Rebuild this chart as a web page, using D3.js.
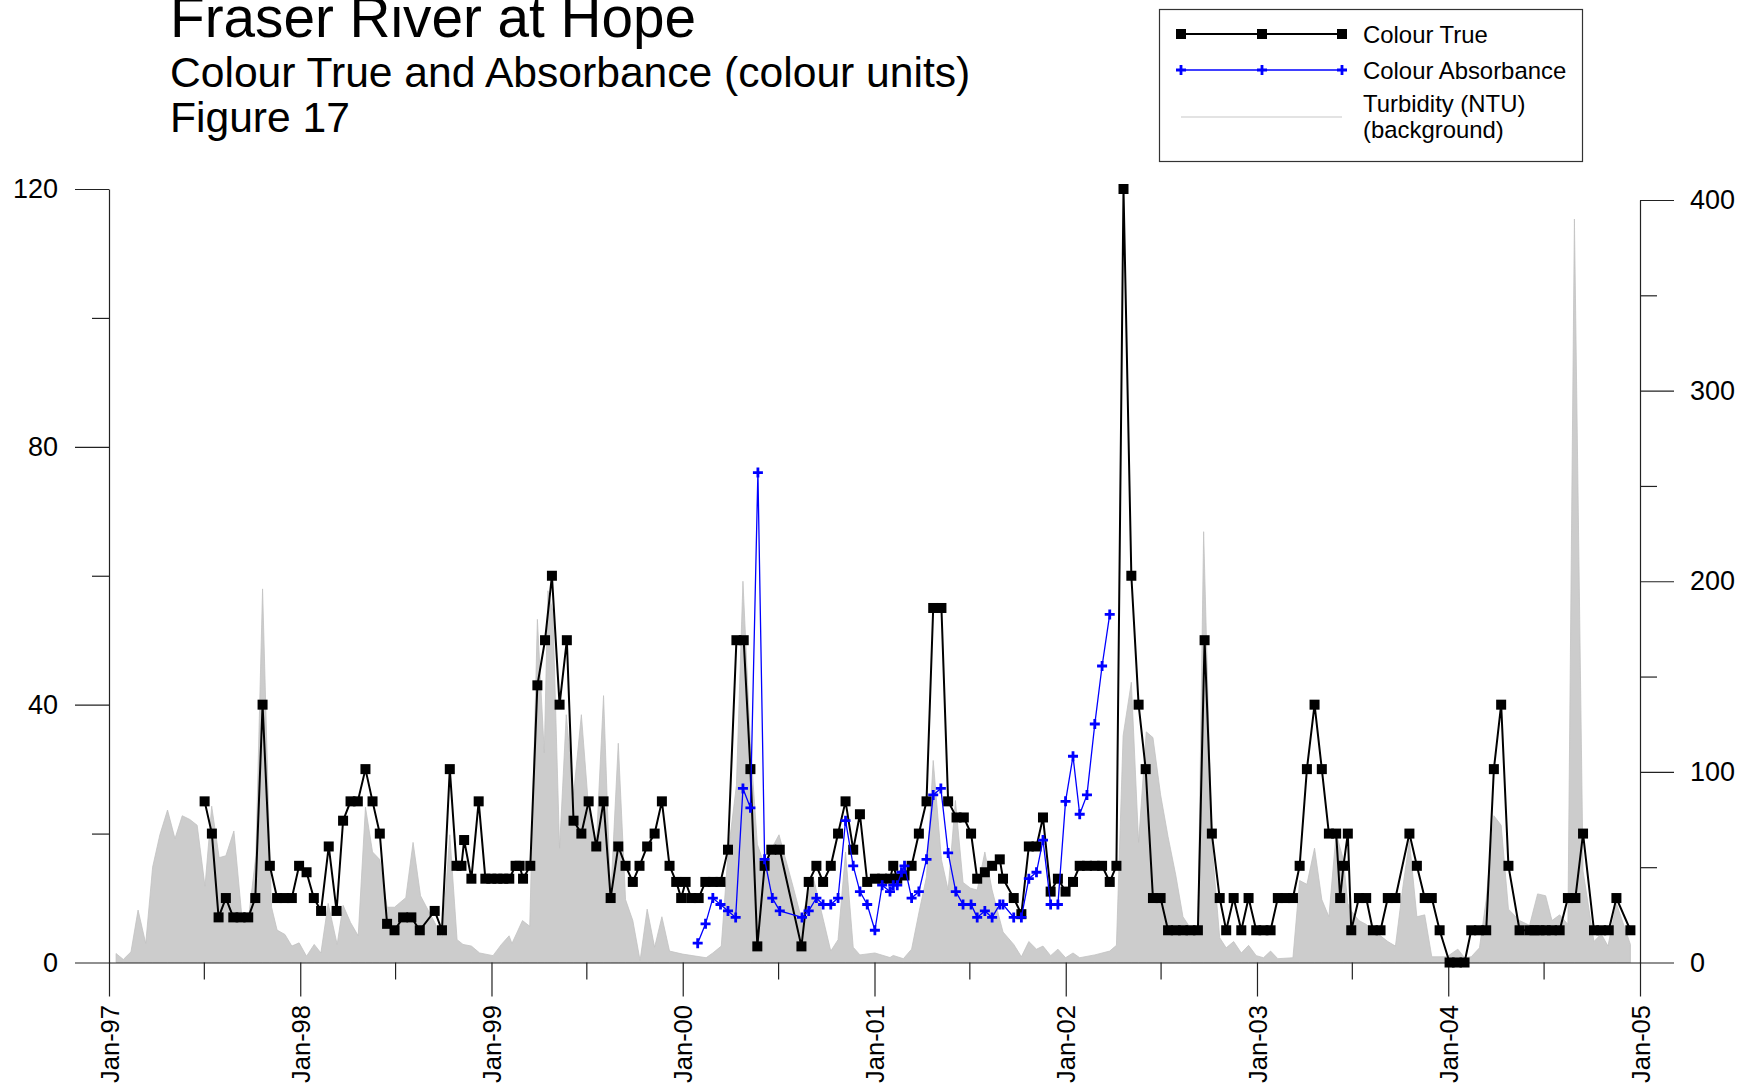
<!DOCTYPE html>
<html><head><meta charset="utf-8">
<script src="https://cdn.jsdelivr.net/npm/d3@7"></script>
<style>
body{margin:0;background:#fff}
svg{display:block}
text{font-family:"Liberation Sans",Arial,Helvetica,sans-serif;fill:#000}
</style>
</head><body>
<svg id="c" width="1743" height="1087"></svg>
<script>
// ---------- DATA (decimal years) ----------
const colourTrueYears = [
1997.500,1997.538,1997.573,1997.611,1997.650,1997.688,1997.728,1997.765,1997.803,1997.841,1997.879,1997.918,1997.956,1997.994,
1998.033,1998.071,1998.109,1998.149,1998.190,1998.224,1998.263,1998.301,1998.341,1998.378,1998.416,1998.454,1998.493,1998.538,
1998.581,1998.625,1998.703,1998.741,1998.782,1998.817,1998.843,1998.857,1998.895,1998.933,1998.968,1998.999,
1999.031,1999.062,1999.093,1999.126,1999.147,1999.165,1999.203,1999.240,1999.280,1999.316,1999.356,1999.394,1999.429,1999.470,
1999.508,1999.548,1999.586,1999.623,1999.663,1999.701,1999.739,1999.774,1999.814,1999.853,1999.891,1999.931,1999.966,1999.992,
2000.015,2000.044,2000.083,2000.118,2000.157,2000.197,2000.236,2000.280,2000.318,2000.353,2000.389,2000.427,2000.462,2000.506,
2000.619,2000.657,2000.697,2000.732,2000.772,2000.810,2000.849,2000.889,2000.924,2000.962,
2001.002,2001.040,2001.081,2001.098,2001.119,2001.157,2001.194,2001.232,2001.272,2001.307,2001.350,2001.385,2001.429,2001.467,
2001.505,2001.537,2001.577,2001.615,2001.655,2001.672,2001.728,2001.768,2001.807,2001.847,2001.881,2001.921,2001.959,
2001.999,2002.038,2002.073,2002.111,2002.152,2002.190,2002.230,2002.265,2002.302,2002.343,2002.381,2002.418,2002.456,2002.496,
2002.535,2002.575,2002.613,2002.652,2002.691,2002.726,2002.764,2002.805,2002.839,2002.878,2002.918,2002.956,
2002.996,2003.034,2003.071,2003.109,2003.148,2003.188,2003.223,2003.261,2003.301,2003.339,2003.376,2003.414,2003.435,2003.452,
2003.475,2003.493,2003.533,2003.571,2003.606,2003.646,2003.684,2003.724,2003.797,2003.836,2003.877,2003.914,2003.955,
2004.007,2004.045,2004.085,2004.120,2004.160,2004.198,2004.238,2004.276,2004.314,2004.372,2004.424,2004.450,2004.476,2004.508,
2004.541,2004.581,2004.624,2004.663,2004.703,2004.760,2004.798,2004.837,2004.877,2004.950];
const colourTrueValues = [
25,20,7,10,7,7,7,10,40,15,10,10,10,15,
14,10,8,18,8,22,25,25,30,25,20,6,5,7,
7,5,8,5,30,15,15,19,13,25,13,13,
13,13,13,15,15,13,15,43,50,60,40,50,22,20,
25,18,25,10,18,15,12.5,15,18,20,25,15,12.5,10,
12.5,10,10,12.5,12.5,12.5,17.5,50,50,30,2.5,15,17.5,17.5,
2.5,12.5,15,12.5,15,20,25,17.5,23,12.5,
13,13,13,15,13,13.5,15,20,25,55,55,25,22.5,22.5,
20,13,14,15,16,13,10,7.5,18,18,22.5,11,13,
11,12.5,15,15,15,15,12.5,15,120,60,40,30,10,10,
5,5,5,5,5,50,20,10,5,10,5,10,
5,5,5,10,10,10,15,30,40,30,20,20,10,15,
20,5,10,10,5,5,10,10,20,15,10,10,5,
0,0,0,5,5,5,30,40,15,5,5,5,5,5,
5,5,10,10,20,5,5,5,10,5];

const absorbanceYears = [
2000.078,2000.119,2000.157,2000.197,2000.236,2000.276,2000.314,2000.353,2000.392,2000.427,2000.467,2000.506,
2000.622,2000.657,2000.697,2000.732,2000.772,2000.810,2000.849,2000.889,2000.924,2000.962,
2001.002,2001.040,2001.081,2001.098,2001.119,2001.141,2001.157,2001.194,2001.232,2001.272,2001.307,2001.347,2001.385,
2001.425,2001.463,2001.505,2001.537,2001.577,2001.615,2001.655,2001.672,2001.728,2001.768,2001.807,2001.847,2001.881,
2001.921,2001.959,2001.999,2002.038,2002.073,2002.111,2002.152,2002.190,2002.230];
const absorbanceValues = [
3,6,10,9,8,7,27,24,76,16,10,8,
7,8,10,9,9,10,22,15,11,9,
5,12,11,12,12,14,15,10,11,16,26,27,17,
11,9,9,7,8,7,9,9,7,7,13,14,19,
9,9,25,32,23,26,37,46,54];

const turbidityYears = [
1997.037,1997.075,1997.115,1997.152,1997.192,1997.228,1997.266,1997.306,1997.345,1997.383,1997.423,1997.461,1997.502,1997.537,
1997.576,1997.611,1997.653,1997.693,1997.728,1997.768,1997.803,1997.841,1997.850,1997.879,1997.920,1997.956,1997.994,
1998.033,1998.073,1998.108,1998.146,1998.193,1998.224,1998.263,1998.303,1998.341,1998.378,1998.416,1998.454,1998.493,1998.552,
1998.590,1998.629,1998.703,1998.743,1998.782,1998.820,1998.851,1998.895,1998.938,
1999.008,1999.052,1999.092,1999.107,1999.130,1999.162,1999.200,1999.240,1999.276,1999.295,1999.321,1999.356,1999.391,1999.429,
1999.470,1999.504,1999.548,1999.586,1999.623,1999.663,1999.701,1999.739,1999.777,1999.814,1999.853,1999.891,1999.931,
2000.000,2000.122,2000.157,2000.201,2000.236,2000.280,2000.314,2000.353,2000.389,2000.427,2000.454,2000.502,2000.575,2000.619,
2000.680,2000.772,2000.810,2000.849,2000.889,2000.924,
2001.002,2001.081,2001.098,2001.151,2001.194,2001.234,2001.272,2001.307,2001.350,2001.385,2001.423,2001.463,2001.502,2001.537,
2001.577,2001.615,2001.672,2001.728,2001.768,2001.807,2001.847,2001.881,2001.921,2001.959,
2001.999,2002.038,2002.073,2002.152,2002.230,2002.265,2002.300,2002.343,2002.381,2002.421,2002.456,2002.496,2002.535,2002.575,
2002.613,2002.652,2002.691,2002.721,2002.764,2002.805,2002.839,2002.878,2002.918,2002.956,
2002.996,2003.034,2003.071,2003.109,2003.188,2003.223,2003.261,2003.301,2003.339,2003.376,2003.414,2003.435,2003.452,2003.475,
2003.493,2003.533,2003.571,2003.606,2003.646,2003.684,2003.724,2003.762,2003.797,2003.836,2003.877,2003.914,
2003.993,2004.050,2004.085,2004.120,2004.163,2004.198,2004.238,2004.276,2004.314,2004.372,2004.424,2004.466,2004.508,2004.541,
2004.581,2004.624,2004.658,2004.703,2004.760,2004.798,2004.833,2004.877,2004.950];
const turbidityValues = [
4.7,1.6,5.6,27.5,10,50,67,80,65,77,75,72,40,82,
55,56,69,26,22,56,196,56,29,17,14.7,8.6,10.3,
3.3,9.5,5,31,9.5,30,21,14,81.5,58,54,29,29,34,
63,35,21,13,67,12,9.5,8.6,5,
3.6,9.5,14,10,15,22,19,180,110,195,184,60,130,88,
130,86,62,140,34,115,33,22,1,28,8,24,6,
4.4,2.5,5,8.6,57,93,200,115,62,51,58,67,40,23,
45,6,12,58,8,4,
5,2.6,3.7,2,7,27,45,106,54,38,85,42,39,38,
58,38,16,9.5,3,11,7,8.6,3.6,7,
2.5,5,2.5,4,6,9,119,147,63,121,118,88,66,46,
24,18,17,226,62,13,7.7,11,5,9,
3.6,2.5,6,2,2.5,43,41,60,33,24,68,60,54,31,
27,22,20,17,14,11,8.6,39,64,24,25,3,
3,7,2.5,3,7.7,33,77,72,28,22,19.5,36,35,22,
25,20,390,48,11,15,8.6,31,9.5];

const xTickYears = [1997,1998,1999,2000,2001,2002,2003,2004,2005];
const leftMajorTicks = [0,40,80,120];
const leftMinorTicks = [20,60,100];
const rightMajorTicks = [0,100,200,300,400];
const rightMinorTicks = [50,150,250,350];
const titleLines = ["Fraser River at Hope","Colour True and Absorbance (colour units)","Figure 17"];
const legendLabels = ["Colour True","Colour Absorbance","Turbidity (NTU)","(background)"];

// ---------- HELPERS ----------
function toDate(y){
  const yr = Math.floor(y);
  const s = new Date(yr,0,1), e = new Date(yr+1,0,1);
  return new Date(s.getTime() + (y-yr)*(e-s));
}
const zip = (a,b)=>a.map((d,i)=>({date:toDate(d), v:b[i]}));
const colourTrue = zip(colourTrueYears, colourTrueValues);
const absorbance = zip(absorbanceYears, absorbanceValues);
const turbidity = zip(turbidityYears, turbidityValues);

// ---------- SCALES ----------
const svg = d3.select("#c");
const x = d3.scaleTime().domain([new Date(1997,0,1), new Date(2005,0,1)]).range([109,1640]);
const yL = d3.scaleLinear().domain([0,120]).range([962.5,189]);
const yR = d3.scaleLinear().domain([0,400]).range([962.5,200]);

// ---------- TURBIDITY AREA ----------
svg.append("path").datum(turbidity)
  .attr("fill","#cccccc").attr("stroke","#c2c2c2").attr("stroke-width",0.8)
  .attr("d", d3.area().x(d=>x(d.date)).y0(yR(0)).y1(d=>yR(d.v)));

// ---------- AXES ----------
const axisColor = "#222";
function styleAxis(g){
  g.selectAll("path,line").attr("stroke",axisColor).attr("stroke-width",1.2);
  g.selectAll("text").style("font-size","27px").style("font-family","'Liberation Sans',Arial,sans-serif").attr("fill","#000");
}
// left
svg.append("g").attr("transform","translate(109,0)")
  .call(d3.axisLeft(yL).tickValues(leftMajorTicks).tickSize(34).tickSizeOuter(0).tickPadding(17).tickFormat(d3.format("d")))
  .call(styleAxis);
svg.append("g").attr("transform","translate(109,0)")
  .call(d3.axisLeft(yL).tickValues(leftMinorTicks).tickSize(17).tickSizeOuter(0).tickFormat(""))
  .call(g=>g.select(".domain").remove()).call(styleAxis);
// right
svg.append("g").attr("transform","translate(1640,0)")
  .call(d3.axisRight(yR).tickValues(rightMajorTicks).tickSize(34).tickSizeOuter(0).tickPadding(16).tickFormat(d3.format("d")))
  .call(styleAxis);
svg.append("g").attr("transform","translate(1640,0)")
  .call(d3.axisRight(yR).tickValues(rightMinorTicks).tickSize(17).tickSizeOuter(0).tickFormat(""))
  .call(g=>g.select(".domain").remove()).call(styleAxis);
// bottom
const fmt = d3.timeFormat("%b-%y");
const gx = svg.append("g").attr("transform","translate(0,962.5)")
  .call(d3.axisBottom(x).tickValues(xTickYears.map(y=>new Date(y,0,1))).tickSize(34).tickSizeOuter(0).tickFormat(fmt))
  .call(styleAxis);
gx.selectAll(".tick text")
  .style("font-size","25.5px")
  .attr("x",0).attr("y",0).attr("dy","0.36em")
  .attr("text-anchor","end")
  .attr("transform","translate(0,42.5) rotate(-90)");
svg.append("g").attr("transform","translate(0,962.5)")
  .call(d3.axisBottom(x).tickValues(xTickYears.slice(0,-1).map(y=>new Date(y,6,1))).tickSize(17).tickSizeOuter(0).tickFormat(""))
  .call(g=>g.select(".domain").remove()).call(styleAxis);

// ---------- COLOUR TRUE ----------
svg.append("path").datum(colourTrue)
  .attr("fill","none").attr("stroke","#000").attr("stroke-width",2)
  .attr("d", d3.line().x(d=>x(d.date)).y(d=>yL(d.v)));
svg.append("g").selectAll("rect").data(colourTrue).join("rect")
  .attr("x",d=>x(d.date)-5).attr("y",d=>yL(d.v)-5)
  .attr("width",10).attr("height",10).attr("fill","#000");

// ---------- ABSORBANCE ----------
svg.append("path").datum(absorbance)
  .attr("fill","none").attr("stroke","#0000ff").attr("stroke-width",1.3)
  .attr("d", d3.line().x(d=>x(d.date)).y(d=>yL(d.v)));
const plus = "M-5,0H5M0,-5V5";
svg.append("g").selectAll("path").data(absorbance).join("path")
  .attr("transform",d=>`translate(${x(d.date)},${yL(d.v)})`)
  .attr("d",plus).attr("stroke","#0000ff").attr("stroke-width",2.8).attr("fill","none");

// ---------- TITLES ----------
svg.append("text").attr("x",170).attr("y",37).style("font-size","56.7px").text(titleLines[0]);
svg.append("text").attr("x",170).attr("y",87).style("font-size","42.6px").text(titleLines[1]);
svg.append("text").attr("x",170).attr("y",132).style("font-size","42.6px").text(titleLines[2]);

// ---------- LEGEND ----------
const lg = svg.append("g");
lg.append("rect").attr("x",1159.5).attr("y",9.5).attr("width",423).attr("height",152)
  .attr("fill","#fff").attr("stroke","#333").attr("stroke-width",1.2);
const lx = [1181,1262,1342];
lg.append("line").attr("x1",lx[0]).attr("x2",lx[2]).attr("y1",34).attr("y2",34).attr("stroke","#000").attr("stroke-width",2);
lg.selectAll("rect.m").data(lx).join("rect").attr("class","m")
  .attr("x",d=>d-5).attr("y",34-5).attr("width",10).attr("height",10).attr("fill","#000");
lg.append("line").attr("x1",lx[0]).attr("x2",lx[2]).attr("y1",70).attr("y2",70).attr("stroke","#0000ff").attr("stroke-width",1.3);
lg.selectAll("path.m").data(lx).join("path").attr("class","m")
  .attr("transform",d=>`translate(${d},70)`).attr("d",plus).attr("stroke","#0000ff").attr("stroke-width",2.8);
lg.append("line").attr("x1",lx[0]).attr("x2",lx[2]).attr("y1",117).attr("y2",117).attr("stroke","#c8c8c8").attr("stroke-width",1.2);
const ly = [43,79,112,138];
legendLabels.forEach((t,i)=>{
  lg.append("text").attr("x",1363).attr("y",ly[i]).style("font-size","23.9px").text(t);
});
</script>
</body></html>
